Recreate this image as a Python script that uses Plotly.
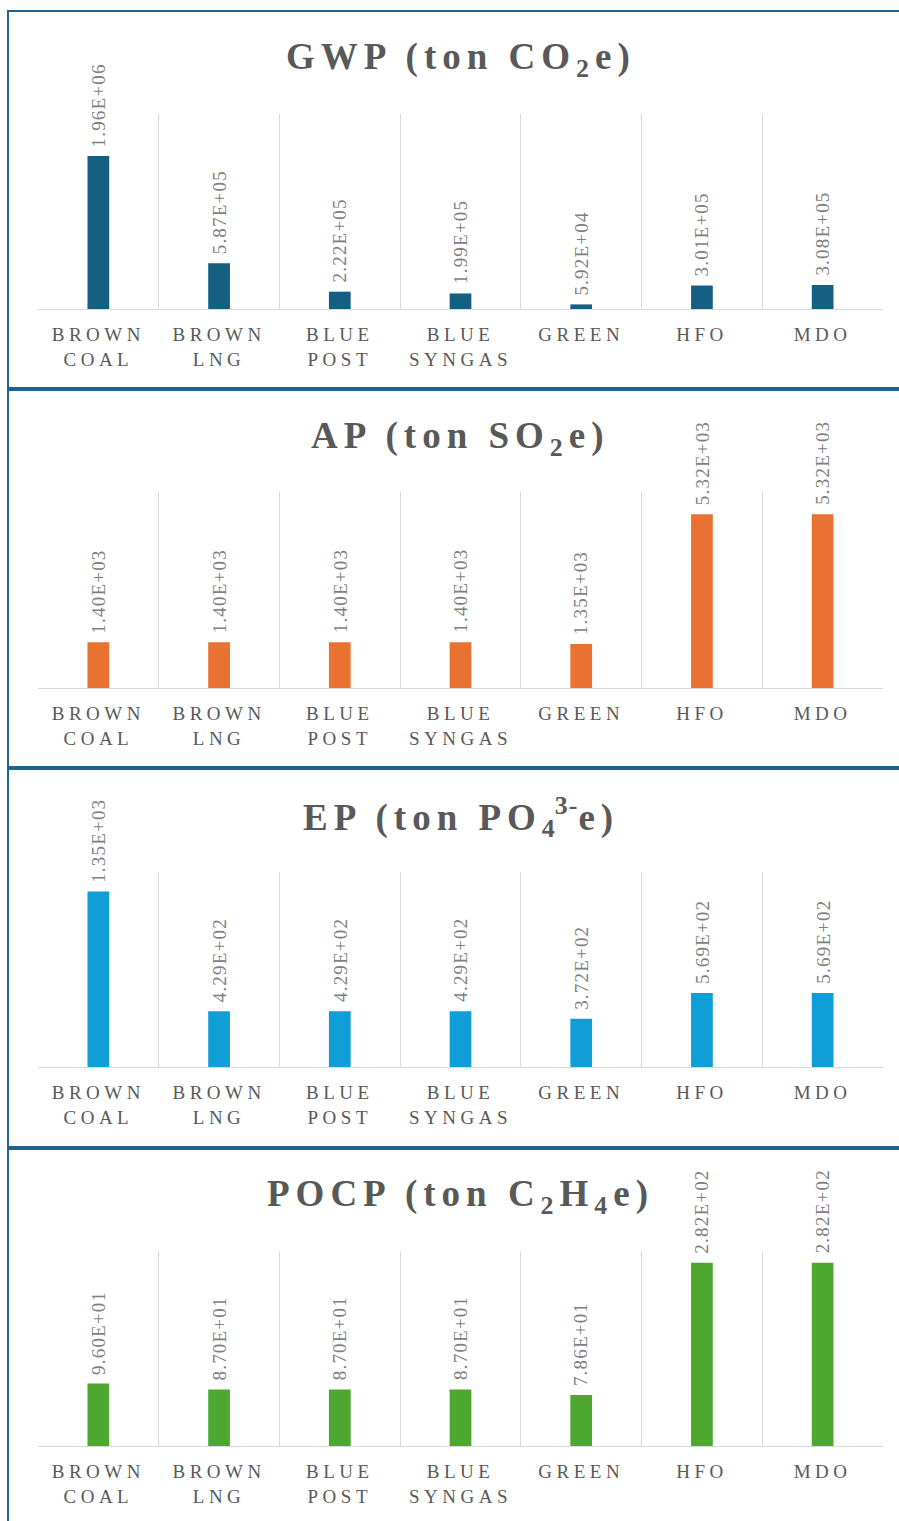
import plotly.graph_objects as go

categories = ["BROWN COAL", "BROWN LNG", "BLUE POST", "BLUE SYNGAS", "GREEN", "HFO", "MDO"]
gwp = [1.96e6, 5.87e5, 2.22e5, 1.99e5, 5.92e4, 3.01e5, 3.08e5]
ap = [1.40e3, 1.40e3, 1.40e3, 1.40e3, 1.35e3, 5.32e3, 5.32e3]
ep = [1.35e3, 4.29e2, 4.29e2, 4.29e2, 3.72e2, 5.69e2, 5.69e2]
pocp = [9.60e1, 8.70e1, 8.70e1, 8.70e1, 7.86e1, 2.82e2, 2.82e2]

series = [gwp, ap, ep, pocp]
colors = ["#156082", "#E97132", "#0F9ED5", "#4EA72E"]
y_max = [2.5e6, 6000, 1500, 300]


def ls(s, px):
    return f'<span style="letter-spacing:{px}px">{s}</span>'


T_LS = 6
titles = [
    ls("GWP (ton CO", T_LS) + "<sub>" + ls("2", T_LS) + "</sub>" + ls("e)", T_LS),
    ls("AP (ton SO", T_LS) + "<sub>" + ls("2", T_LS) + "</sub>" + ls("e)", T_LS),
    ls("EP (ton PO", T_LS) + "<sub>4</sub><sup>" + ls("3-", 1) + "</sup>" + ls("e)", T_LS),
    ls("POCP (ton C", T_LS) + "<sub>" + ls("2", T_LS) + "</sub>" + ls("H", T_LS)
    + "<sub>" + ls("4", T_LS) + "</sub>" + ls("e)", T_LS),
]

tick_text = ["<br>".join(ls(w, 4.5) for w in c.split(" ")) for c in categories]

W, H = 899, 1521
plot_top = [114, 492, 872, 1251]
plot_bot = [309, 688, 1067, 1446]
frame_top = [11, 390, 769, 1149]
frame_bot = [388, 767, 1147, 1530]
title_y = [60, 438, 817, 1196]

fig = go.Figure()
serif = "Liberation Serif"
x_idx = list(range(len(categories)))

for i, vals in enumerate(series):
    n = i + 1
    xa = "x" if n == 1 else f"x{n}"
    ya = "y" if n == 1 else f"y{n}"
    fig.add_trace(go.Bar(
        x=x_idx, y=vals, xaxis=xa, yaxis=ya,
        marker=dict(color=colors[i], line=dict(width=0)),
        width=0.18, showlegend=False, hoverinfo="skip",
    ))
    for xi, v in zip(x_idx, vals):
        fig.add_annotation(
            x=xi, y=v, xref=xa, yref=ya, text=ls("%.2E" % v, 1.2),
            textangle=-90, showarrow=False, xanchor="center", yanchor="bottom",
            yshift=7, font=dict(family=serif, size=19, color="#7F7F7F"),
        )
    fig.add_annotation(
        x=(38 + 883) / 2 / W, y=1 - title_y[i] / H, xref="paper", yref="paper",
        text="<b>" + titles[i] + "</b>", showarrow=False,
        xanchor="center", yanchor="middle",
        font=dict(family=serif, size=37, color="#595959"),
    )
    fig.add_shape(
        type="rect", xref="paper", yref="paper",
        x0=8 / W, x1=910 / W, y0=1 - frame_bot[i] / H, y1=1 - frame_top[i] / H,
        line=dict(color="#1F6390", width=2), fillcolor="rgba(0,0,0,0)", layer="below",
    )
    xkey = "xaxis" if n == 1 else f"xaxis{n}"
    ykey = "yaxis" if n == 1 else f"yaxis{n}"
    fig.update_layout(**{
        xkey: dict(
            domain=[38 / W, 883 / W], anchor=ya, range=[-0.5, 6.5],
            tickmode="array", tickvals=x_idx, ticktext=tick_text,
            showgrid=False, zeroline=False, showline=True, linecolor="#D9D9D9", linewidth=1,
            ticks="", ticklabelstandoff=8,
            tickfont=dict(family=serif, size=19, color="#595959"),
            minor=dict(tickmode="array", tickvals=[k - 0.5 for k in range(8)],
                       showgrid=True, gridcolor="#D9D9D9", gridwidth=1, ticks=""),
            fixedrange=True,
        ),
        ykey: dict(
            domain=[1 - plot_bot[i] / H, 1 - plot_top[i] / H], anchor=xa,
            range=[0, y_max[i]], showgrid=False, zeroline=False, showticklabels=False,
            showline=False, fixedrange=True,
        ),
    })

fig.update_layout(
    width=W, height=H, margin=dict(l=0, r=0, t=0, b=0),
    paper_bgcolor="white", plot_bgcolor="white", bargap=0.82,
)

fig.write_html(
    "out.html",
    config={"displayModeBar": False, "staticPlot": True},
    post_script="document.body.style.margin='0';document.body.style.overflow='hidden';",
)
